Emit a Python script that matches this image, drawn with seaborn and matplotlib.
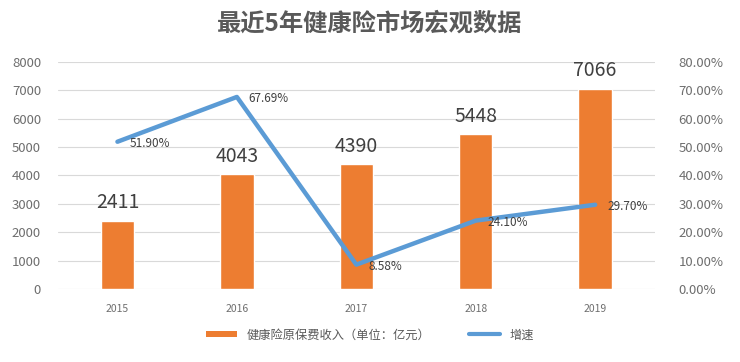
import matplotlib
matplotlib.use('Agg')
import matplotlib.pyplot as plt
from matplotlib.ticker import FuncFormatter
from matplotlib.lines import Line2D
from matplotlib.patches import Patch
import seaborn as sns

years = ['2015', '2016', '2017', '2018', '2019']
premium = [2411, 4043, 4390, 5448, 7066]  # 亿元
growth = [51.90, 67.69, 8.58, 24.10, 29.70]  # %

sns.set_theme(style='white')
plt.rcParams['font.family'] = ['Noto Sans CJK SC', 'DejaVu Sans']

orange = '#ed7d31'
blue = '#5b9bd5'
grey = '#595959'
tick_grey = '#6e6e6e'

fig = plt.figure(figsize=(7.4, 3.62), dpi=100)
ax = fig.add_axes([0.078, 0.2017, 0.807, 0.627])

sns.barplot(x=years, y=premium, color=orange, width=0.28, saturation=1, ax=ax)
ax.set_ylim(0, 8000)
ax.set_yticks(range(0, 8001, 1000))
ax.yaxis.grid(True, color='#d9d9d9', linewidth=0.8)
ax.set_axisbelow(True)
for s in ax.spines.values():
    s.set_visible(False)
ax.tick_params(axis='y', labelsize=9.5, labelcolor=tick_grey, length=0, pad=12)
ax.tick_params(axis='x', labelsize=7.5, labelcolor=tick_grey, length=0, pad=11)
ax.set_xlabel('')
ax.set_ylabel('')
for i, v in enumerate(premium):
    ax.text(i, v + 250, str(v), ha='center', va='bottom', fontsize=14, color='#404040')

ax2 = ax.twinx()
sns.lineplot(x=years, y=growth, color=blue, linewidth=3.2, ax=ax2)
ax.set_xlim(-0.5, 4.5)
ax2.set_ylim(0, 80)
ax2.set_yticks(range(0, 81, 10))
ax2.yaxis.set_major_formatter(FuncFormatter(lambda v, p: f'{v:.2f}%'))
ax2.tick_params(axis='y', labelsize=9.5, labelcolor=tick_grey, length=0, pad=17)
ax2.set_ylabel('')
for s in ax2.spines.values():
    s.set_visible(False)
for i, g in enumerate(growth):
    ax2.text(i + 0.1, g - 0.5, f'{g:.2f}%', ha='left', va='center', fontsize=8.5, color='#404040')

fig.text(0.5, 0.935, '最近5年健康险市场宏观数据', ha='center', va='center',
         fontsize=17.5, fontweight='bold', color=grey)

handles = [Patch(facecolor=orange, edgecolor='none'),
           Line2D([0], [0], color=blue, linewidth=3)]
fig.legend(handles, ['健康险原保费收入（单位：亿元）', '增速'], loc='center',
           bbox_to_anchor=(0.5, 0.075), ncol=2, frameon=False, fontsize=8.8,
           handlelength=2.5, handleheight=0.5, columnspacing=3.2,
           labelcolor=grey)

fig.savefig('out.png', dpi=100)
